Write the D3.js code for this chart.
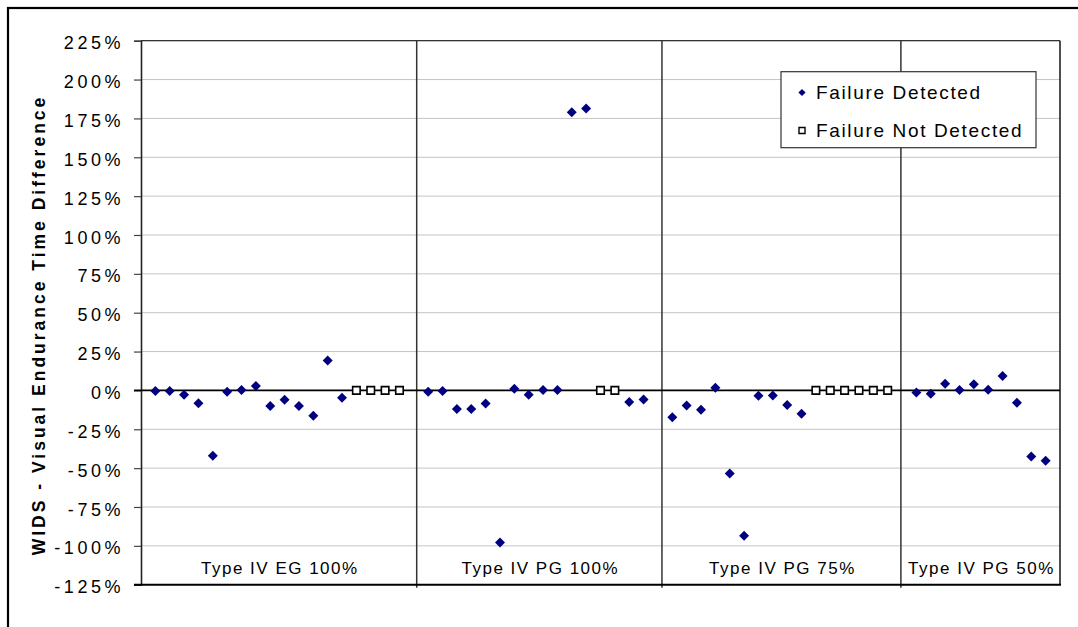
<!DOCTYPE html>
<html>
<head>
<meta charset="utf-8">
<script src="https://cdn.jsdelivr.net/npm/d3@7"></script>
<style>
  html, body { margin: 0; padding: 0; background: #fff; }
  svg { display: block; }
  text { font-family: "Liberation Sans", Arial, sans-serif; fill: #000; }
</style>
</head>
<body>
<svg id="chart" width="1078" height="627"></svg>
<script>
// ---- Data ----
const categories = ["Type IV EG 100%", "Type IV PG 100%", "Type IV PG 75%", "Type IV PG 50%"];
const categoryDividers = [19.2, 36.28, 52.92]; // x positions (in point-index units) of group separators
const xDomain = [0, 64];

// Failure Detected (x = point index, y = % difference)
const detectedX = [1, 2, 3, 4, 5, 6, 7, 8, 9, 10, 11, 12, 13, 14,
                   20, 21, 22, 23, 24, 25, 26, 27, 28, 29, 30, 31, 34, 35,
                   37, 38, 39, 40, 41, 42, 43, 44, 45, 46,
                   54, 55, 56, 57, 58, 59, 60, 61, 62, 63];
const detectedY = [-0.4, -0.4, -2.8, -8.2, -42.0, -0.9, 0.2, 2.8, -10.1, -6.0, -10.1, -16.3, 19.3, -4.7,
                   -0.9, -0.4, -12.0, -12.0, -8.4, -97.8, 1.1, -2.8, 0.2, 0.2, 178.9, 181.3, -7.5, -5.8,
                   -17.2, -9.7, -12.4, 1.7, -53.4, -93.5, -3.4, -3.2, -9.4, -15.0,
                   -1.3, -2.1, 4.3, 0.2, 3.9, 0.4, 9.2, -7.9, -42.5, -45.3];

// Failure Not Detected
const notDetectedX = [15, 16, 17, 18, 32, 33, 47, 48, 49, 50, 51, 52];
const notDetectedY = [0, 0, 0, 0, 0, 0, 0, 0, 0, 0, 0, 0];

const yTicks = [-125, -100, -75, -50, -25, 0, 25, 50, 75, 100, 125, 150, 175, 200, 225];
const yTitle = "WIDS - Visual Endurance Time Difference";
const legendLabels = ["Failure Detected", "Failure Not Detected"];

// ---- Layout ----
const svg = d3.select("#chart");
const plot = { left: 141, right: 1060, top: 40.7, bottom: 584.7 };

const x = d3.scaleLinear().domain(xDomain).range([plot.left, plot.right]);
const y = d3.scaleLinear().domain([-125, 225]).range([plot.bottom, plot.top]);

// outer chart frame (extends beyond the visible area on right/bottom)
svg.append("rect")
  .attr("x", 8).attr("y", 8).attr("width", 1200).attr("height", 1000)
  .attr("fill", "#fff").attr("stroke", "#000").attr("stroke-width", 2.2);

// gridlines
svg.append("g")
  .selectAll("line")
  .data(yTicks.filter(t => t !== 0 && t !== -125))
  .join("line")
  .attr("x1", plot.left).attr("x2", plot.right)
  .attr("y1", d => y(d)).attr("y2", d => y(d))
  .attr("stroke", "#c4c4c4").attr("stroke-width", 1);

// plot border top/right
svg.append("line").attr("x1", plot.left).attr("x2", plot.right)
  .attr("y1", plot.top).attr("y2", plot.top).attr("stroke", "#333").attr("stroke-width", 1.2);
svg.append("line").attr("x1", plot.right).attr("x2", plot.right)
  .attr("y1", plot.top).attr("y2", plot.bottom).attr("stroke", "#222").attr("stroke-width", 1.6);

// dividers
svg.append("g").selectAll("line")
  .data(categoryDividers)
  .join("line")
  .attr("x1", d => x(d)).attr("x2", d => x(d))
  .attr("y1", plot.top).attr("y2", plot.bottom + 3)
  .attr("stroke", "#333").attr("stroke-width", 1.5);

// y axis
const yAxis = d3.axisLeft(y).tickValues(yTicks).tickSize(7).tickFormat(d => d + "%");
const gy = svg.append("g").attr("transform", `translate(${plot.left},0)`).call(yAxis);
gy.select(".domain").attr("stroke", "#222").attr("stroke-width", 1.6);
gy.selectAll(".tick line").attr("stroke", "#444").attr("stroke-width", 1.2);
gy.selectAll(".tick text")
  .attr("x", -16.8).attr("dy", "0.45em")
  .style("font-size", "18px").style("letter-spacing", "3.6px")
  .style("font-family", "'Liberation Sans', Arial, sans-serif").attr("fill", "#000");

// bottom border
svg.append("line").attr("x1", plot.left - 7).attr("x2", plot.right + 1)
  .attr("y1", plot.bottom).attr("y2", plot.bottom).attr("stroke", "#000").attr("stroke-width", 2);

// zero line
svg.append("line").attr("x1", plot.left - 7).attr("x2", plot.right)
  .attr("y1", y(0)).attr("y2", y(0)).attr("stroke", "#000").attr("stroke-width", 1.8);

// category labels
const bounds = [xDomain[0], ...categoryDividers, xDomain[1]];
svg.append("g").selectAll("text")
  .data(categories)
  .join("text")
  .attr("x", (d, i) => (x(bounds[i]) + x(bounds[i + 1])) / 2 + 1)
  .attr("y", 574)
  .attr("text-anchor", "middle")
  .style("font-size", "17px").style("letter-spacing", "1.5px")
  .text(d => d);

// y title
svg.append("text")
  .attr("transform", "translate(44.5,325) rotate(-90)")
  .attr("text-anchor", "middle")
  .style("font-size", "17.5px").style("font-weight", "bold").style("letter-spacing", "3px")
  .text(yTitle);

// markers
const diamond = d3.symbol().type(d3.symbolSquare).size(50)();
const square = d3.symbol().type(d3.symbolSquare).size(56)();

svg.append("g").selectAll("path")
  .data(notDetectedX.map((d, i) => [d, notDetectedY[i]]))
  .join("path")
  .attr("d", square)
  .attr("transform", d => `translate(${x(d[0])},${y(d[1])})`)
  .attr("fill", "#fff").attr("stroke", "#000").attr("stroke-width", 1.6);

svg.append("g").selectAll("path")
  .data(detectedX.map((d, i) => [d, detectedY[i]]))
  .join("path")
  .attr("d", diamond)
  .attr("transform", d => `translate(${x(d[0])},${y(d[1])}) rotate(45)`)
  .attr("fill", "#000080");

// legend
const lg = svg.append("g");
lg.append("rect").attr("x", 781).attr("y", 71.7).attr("width", 255).attr("height", 76)
  .attr("fill", "#fff").attr("stroke", "#333").attr("stroke-width", 1.2);
lg.append("path").attr("d", d3.symbol().type(d3.symbolSquare).size(26)())
  .attr("transform", "translate(802,92.5) rotate(45)").attr("fill", "#000080");
lg.append("path").attr("d", d3.symbol().type(d3.symbolSquare).size(36)())
  .attr("transform", "translate(802,130.5)").attr("fill", "#fff")
  .attr("stroke", "#000").attr("stroke-width", 1.4);
lg.selectAll("text.lbl")
  .data(legendLabels)
  .join("text")
  .attr("class", "lbl")
  .attr("x", 816).attr("y", (d, i) => 99.3 + i * 37.9)
  .style("font-size", "19px").style("letter-spacing", "1.65px")
  .text(d => d);
</script>
</body>
</html>
